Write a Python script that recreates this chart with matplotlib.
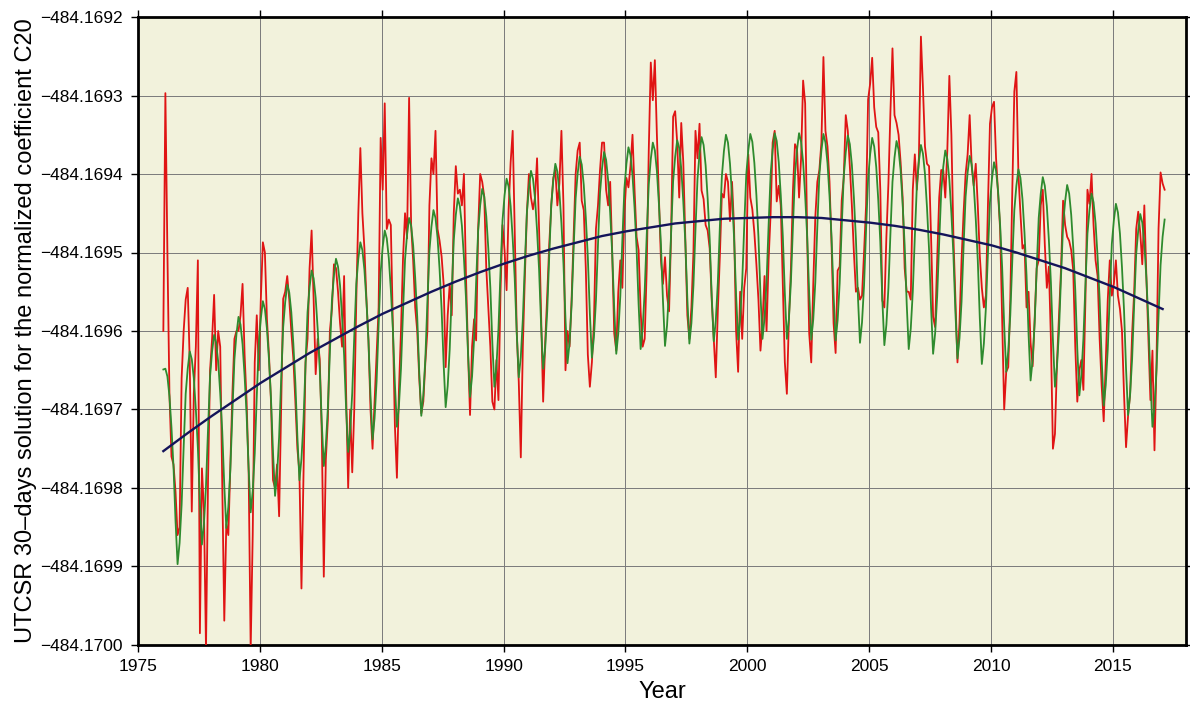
import numpy as np
import matplotlib
matplotlib.use("Agg")
import matplotlib.pyplot as plt
from matplotlib.ticker import FixedLocator, FuncFormatter

# ---------------- data ----------------
# All series are stored as offsets below -484.169, in units of 1e-6
BASE = -484.169
UNIT = 1e-6
start_year = 1976.04          # first monthly sample
step = 1.0 / 12.0             # monthly sampling

# UTCSR 30-day solution (red), one row per year 1976 ... 2017
red_offsets = [
    600, 297, 500, 680, 760, 770, 805, 860, 850, 660, 600, 560,   # 1976
    545, 640, 830, 680, 620, 510, 985, 775, 830, 1005, 790, 650,  # 1977
    610, 554, 650, 600, 620, 790, 969, 846, 860, 770, 680, 610,   # 1978
    600, 600, 580, 540, 630, 690, 780, 1005, 860, 640, 580, 650,  # 1979
    559, 487, 500, 585, 630, 690, 790, 800, 770, 836, 700, 559,   # 1980
    550, 530, 560, 600, 635, 690, 750, 780, 928, 780, 640, 610,   # 1981
    520, 472, 560, 655, 610, 636, 730, 913, 764, 713, 600, 572,   # 1982
    515, 520, 550, 590, 620, 530, 680, 800, 700, 780, 700, 560,   # 1983
    450, 367, 450, 495, 560, 612, 700, 750, 690, 630, 570, 354,   # 1984
    420, 310, 470, 458, 465, 590, 720, 787, 675, 600, 508, 450,   # 1985
    482, 303, 465, 510, 570, 600, 660, 705, 690, 640, 600, 440,   # 1986
    380, 400, 345, 470, 485, 505, 540, 646, 580, 540, 580, 450,   # 1987
    390, 425, 420, 440, 400, 530, 625, 707, 620, 585, 612, 470,   # 1988
    400, 410, 429, 520, 570, 620, 690, 700, 637, 688, 550, 465,   # 1989
    497, 548, 445, 385, 345, 470, 600, 665, 761, 620, 530, 450,   # 1990
    400, 430, 445, 430, 380, 470, 582, 690, 615, 555, 490, 440,   # 1991
    405, 395, 440, 412, 345, 440, 650, 600, 620, 560, 480, 400,   # 1992
    370, 360, 434, 446, 520, 630, 671, 640, 590, 470, 440, 395,   # 1993
    360, 360, 420, 440, 410, 500, 603, 625, 550, 510, 545, 450,   # 1994
    405, 417, 390, 350, 420, 480, 497, 575, 620, 610, 520, 370,   # 1995
    258, 306, 255, 350, 430, 510, 540, 506, 555, 575, 476, 327,   # 1996
    320, 360, 430, 335, 385, 480, 580, 610, 570, 500, 345, 380,   # 1997
    336, 421, 432, 465, 472, 495, 560, 610, 659, 575, 505, 425,   # 1998
    430, 400, 410, 460, 410, 468, 600, 652, 550, 610, 545, 520,   # 1999
    375, 430, 445, 475, 515, 560, 625, 590, 530, 600, 510, 450,   # 2000
    360, 345, 435, 415, 440, 540, 640, 680, 585, 520, 420, 362,   # 2001
    368, 430, 380, 281, 310, 480, 603, 640, 540, 455, 410, 395,   # 2002
    360, 251, 345, 365, 410, 490, 590, 628, 523, 518, 434, 405,   # 2003
    325, 345, 390, 440, 500, 550, 545, 560, 555, 500, 440, 305,   # 2004
    285, 252, 315, 340, 347, 420, 561, 570, 480, 412, 320, 240,   # 2005
    325, 335, 350, 385, 430, 520, 550, 550, 560, 420, 375, 420,   # 2006
    380, 225, 290, 365, 387, 390, 480, 582, 595, 510, 430, 395,   # 2007
    395, 430, 370, 275, 350, 480, 560, 640, 590, 510, 450, 400,   # 2008
    375, 325, 390, 415, 387, 440, 505, 545, 570, 555, 440, 336,   # 2009
    315, 308, 380, 425, 470, 582, 700, 652, 646, 560, 420, 295,   # 2010
    270, 400, 450, 495, 490, 570, 550, 615, 645, 585, 520, 510,   # 2011
    440, 420, 490, 545, 518, 610, 750, 731, 640, 580, 520, 434,   # 2012
    465, 480, 485, 497, 523, 620, 690, 650, 637, 675, 560, 420,   # 2013
    438, 400, 465, 510, 530, 610, 670, 715, 640, 560, 510, 555,   # 2014
    540, 510, 555, 572, 600, 680, 748, 708, 680, 603, 550, 470,   # 2015
    448, 475, 515, 440, 530, 610, 688, 625, 752, 640, 470, 398,   # 2016
    412, 420,                                                     # 2017
]

# seasonal model (green), same monthly sampling
green_offsets = [
    649, 648, 658, 683, 723, 773, 842, 897, 870, 821, 748, 680,   # 1976
    648, 626, 636, 660, 700, 749, 818, 872, 845, 797, 725, 658,   # 1977
    626, 605, 615, 639, 679, 728, 797, 851, 824, 776, 703, 636,   # 1978
    604, 582, 592, 617, 657, 707, 776, 831, 804, 756, 683, 616,   # 1979
    584, 562, 572, 597, 636, 686, 755, 810, 783, 735, 662, 595,   # 1980
    563, 541, 551, 576, 616, 666, 735, 790, 763, 715, 643, 576,   # 1981
    544, 523, 533, 558, 598, 648, 717, 772, 746, 698, 627, 561,   # 1982
    529, 508, 518, 542, 582, 631, 700, 754, 727, 679, 607, 540,   # 1983
    508, 487, 497, 522, 562, 613, 683, 738, 711, 664, 592, 525,   # 1984
    493, 472, 482, 507, 547, 597, 667, 722, 695, 648, 576, 509,   # 1985
    477, 456, 466, 491, 532, 582, 653, 708, 682, 635, 564, 498,   # 1986
    467, 446, 456, 481, 521, 572, 642, 697, 670, 623, 551, 484,   # 1987
    452, 431, 441, 466, 507, 558, 628, 684, 658, 610, 538, 472,   # 1988
    440, 419, 429, 454, 495, 545, 616, 671, 645, 597, 525, 459,   # 1989
    427, 406, 416, 441, 482, 533, 603, 659, 633, 585, 514, 449,   # 1990
    417, 396, 406, 431, 472, 522, 593, 648, 622, 575, 504, 439,   # 1991
    408, 387, 397, 423, 463, 514, 585, 641, 615, 567, 496, 431,   # 1992
    399, 378, 388, 414, 455, 506, 578, 634, 608, 561, 490, 424,   # 1993
    393, 372, 382, 408, 449, 501, 572, 629, 603, 555, 484, 419,   # 1994
    387, 366, 376, 402, 443, 495, 566, 623, 597, 549, 478, 413,   # 1995
    381, 360, 370, 396, 438, 490, 562, 619, 593, 546, 475, 409,   # 1996
    378, 357, 367, 393, 435, 487, 559, 616, 590, 542, 471, 406,   # 1997
    374, 353, 363, 389, 431, 483, 556, 613, 587, 539, 468, 403,   # 1998
    371, 350, 360, 387, 428, 481, 554, 611, 585, 538, 467, 401,   # 1999
    370, 349, 359, 386, 427, 480, 553, 610, 584, 537, 466, 400,   # 2000
    369, 348, 358, 385, 427, 479, 552, 610, 585, 537, 466, 401,   # 2001
    369, 348, 359, 385, 427, 480, 553, 611, 585, 538, 467, 401,   # 2002
    370, 349, 360, 386, 428, 481, 554, 612, 586, 539, 468, 403,   # 2003
    372, 351, 362, 388, 430, 483, 557, 615, 589, 542, 471, 406,   # 2004
    375, 354, 365, 391, 433, 486, 560, 618, 592, 545, 475, 410,   # 2005
    379, 358, 369, 395, 438, 491, 565, 623, 597, 550, 480, 415,   # 2006
    384, 363, 374, 400, 443, 496, 570, 629, 603, 556, 487, 422,   # 2007
    391, 370, 381, 407, 450, 503, 577, 635, 609, 563, 493, 429,   # 2008
    398, 377, 388, 414, 457, 510, 584, 642, 616, 570, 501, 436,   # 2009
    406, 385, 396, 422, 465, 519, 593, 652, 626, 580, 510, 446,   # 2010
    415, 394, 405, 432, 475, 529, 604, 663, 637, 590, 521, 456,   # 2011
    425, 404, 415, 441, 484, 538, 612, 671, 645, 599, 530, 465,   # 2012
    435, 414, 425, 452, 494, 548, 623, 682, 656, 610, 541, 476,   # 2013
    446, 425, 436, 463, 506, 560, 636, 695, 669, 623, 554, 489,   # 2014
    459, 438, 449, 476, 519, 573, 648, 707, 681, 635, 566, 502,   # 2015
    472, 451, 462, 489, 532, 587, 662, 722, 696, 650, 581, 516,   # 2016
    480, 458,                                                     # 2017
]

# long-term trend (dark blue), yearly samples
trend_offsets = [
    753, 730, 708, 687, 666, 647, 628, 611, 594, 578,   # 1976-1985
    564, 550, 537, 525, 514, 504, 495, 487, 479, 473,   # 1986-1995
    468, 463, 460, 457, 456, 455, 455, 456, 459, 462,   # 1996-2005
    466, 471, 477, 484, 491, 500, 510, 520, 532, 544,   # 2006-2015
    558, 572,                                           # 2016-2017
]

x_ticks = [1975, 1980, 1985, 1990, 1995, 2000, 2005, 2010, 2015]
y_ticks = [-484.1700, -484.1699, -484.1698, -484.1697, -484.1696,
           -484.1695, -484.1694, -484.1693, -484.1692]

y_label = "UTCSR 30\u2013days solution for the normalized coefficient C20"
x_label = "Year"

# ---------------- plot ----------------
plt.rcParams['font.family'] = ['Liberation Sans', 'DejaVu Sans']

red = BASE - np.array(red_offsets, dtype=float) * UNIT
green = BASE - np.array(green_offsets, dtype=float) * UNIT
trend = BASE - np.array(trend_offsets, dtype=float) * UNIT
t_red = start_year + np.arange(len(red)) * step
t_green = start_year + np.arange(len(green)) * step
t_trend = start_year + np.arange(len(trend))

W, H = 1190, 702
fig = plt.figure(figsize=(W / 100, H / 100), dpi=100)
ax = fig.add_axes([138 / W, 1 - 645 / H, (1186 - 138) / W, (645 - 17) / H])
ax.set_facecolor('#F2F2DC')

ax.plot(t_red, red, color='#E01414', lw=1.3, zorder=3)
ax.plot(t_green, green, color='#2E8B2E', lw=1.3, zorder=4)
ax.plot(t_trend, trend, color='#14145A', lw=1.7, zorder=5)

ax.set_xlim(1975, 2018)
ax.set_ylim(-484.1700, -484.1692)
ax.xaxis.set_major_locator(FixedLocator(x_ticks))
ax.yaxis.set_major_locator(FixedLocator(y_ticks))
ax.yaxis.set_major_formatter(FuncFormatter(lambda v, p: f"{v:.4f}".replace('-', '\u2212')))
ax.xaxis.set_major_formatter(FuncFormatter(lambda v, p: f"{v:.0f}"))

ax.grid(True, color='#7a7a7a', lw=0.7, zorder=1)
ax.set_axisbelow(True)
ax.tick_params(direction='out', length=5, width=1.0, top=True, right=True,
               labeltop=False, labelright=False, labelsize=12.5, colors='black')
ax.tick_params(axis='x', pad=5)
ax.tick_params(axis='y', pad=6)
for s in ax.spines.values():
    s.set_linewidth(2.0)
    s.set_color('black')

fig.text(26 / W, 1 - 331 / H, y_label, rotation=90, ha='center', va='center', fontsize=17)
fig.text(662 / W, 1 - 698 / H, x_label, ha='center', va='baseline', fontsize=17)

fig.savefig('out.png', dpi=100)
